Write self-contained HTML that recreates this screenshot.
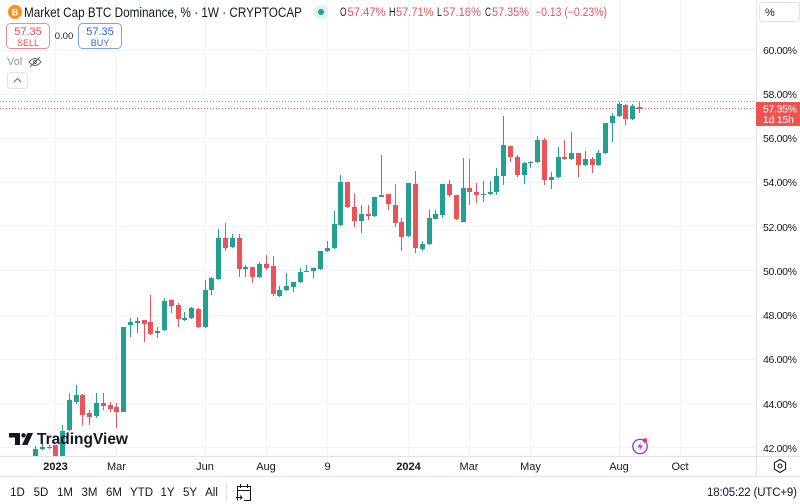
<!DOCTYPE html>
<html><head><meta charset="utf-8"><style>
html,body{margin:0;padding:0;background:#fff;}
svg{display:block;}
text{font-family:"Liberation Sans",Arial,sans-serif;}
</style></head><body>
<svg width="800" height="504" viewBox="0 0 800 504" xmlns="http://www.w3.org/2000/svg">
<rect width="800" height="504" fill="#fff"/>
<defs><clipPath id="pane"><rect x="0" y="0" width="756" height="456"/></clipPath></defs>
<!-- grid -->
<g stroke="#f0f3fa" stroke-width="1">
<line x1="55.5" y1="0" x2="55.5" y2="456"/><line x1="116.5" y1="0" x2="116.5" y2="456"/>
<line x1="205.5" y1="0" x2="205.5" y2="456"/><line x1="266.5" y1="0" x2="266.5" y2="456"/>
<line x1="327.5" y1="0" x2="327.5" y2="456"/><line x1="408.5" y1="0" x2="408.5" y2="456"/>
<line x1="469.5" y1="0" x2="469.5" y2="456"/><line x1="530.5" y1="0" x2="530.5" y2="456"/>
<line x1="619.5" y1="0" x2="619.5" y2="456"/><line x1="680.5" y1="0" x2="680.5" y2="456"/>
<line x1="0" y1="50.5" x2="756" y2="50.5"/><line x1="0" y1="94.5" x2="756" y2="94.5"/>
<line x1="0" y1="138.5" x2="756" y2="138.5"/><line x1="0" y1="182.5" x2="756" y2="182.5"/>
<line x1="0" y1="226.5" x2="756" y2="226.5"/><line x1="0" y1="270.5" x2="756" y2="270.5"/>
<line x1="0" y1="315.5" x2="756" y2="315.5"/><line x1="0" y1="359.5" x2="756" y2="359.5"/>
<line x1="0" y1="403.5" x2="756" y2="403.5"/><line x1="0" y1="447.5" x2="756" y2="447.5"/>
</g>
<!-- price lines -->
<line x1="0" y1="101.5" x2="756" y2="101.5" stroke="#9598a1" stroke-width="1" stroke-dasharray="1,2"/>
<line x1="0" y1="108.5" x2="756" y2="108.5" stroke="#ef5350" stroke-width="1" stroke-dasharray="1,2"/>
<g clip-path="url(#pane)">
<!-- green candles -->
<g fill="#22a190">
<rect x="35" y="446" width="1" height="10"/><rect x="33" y="449" width="5" height="7"/>
<rect x="42" y="444" width="1" height="6"/><rect x="40" y="447" width="5" height="2"/>
<rect x="49" y="445" width="1" height="4"/><rect x="47" y="447" width="5" height="1"/>
<rect x="62" y="425" width="1" height="31"/><rect x="60" y="431" width="5" height="25"/>
<rect x="69" y="394" width="1" height="37"/><rect x="67" y="400" width="5" height="30"/>
<rect x="76" y="385" width="1" height="19"/><rect x="74" y="395" width="5" height="7"/>
<rect x="96" y="393" width="1" height="25"/><rect x="94" y="403" width="5" height="13"/>
<rect x="123" y="327" width="1" height="85"/><rect x="121" y="327" width="5" height="85"/>
<rect x="130" y="318" width="1" height="19"/><rect x="128" y="322" width="5" height="3"/>
<rect x="137" y="317" width="1" height="16"/><rect x="135" y="321" width="5" height="2"/>
<rect x="157" y="327" width="1" height="11"/><rect x="155" y="331" width="5" height="2"/>
<rect x="164" y="298" width="1" height="33"/><rect x="162" y="301" width="5" height="29"/>
<rect x="184" y="312" width="1" height="9"/><rect x="182" y="318" width="5" height="2"/>
<rect x="191" y="307" width="1" height="12"/><rect x="189" y="308" width="5" height="10"/>
<rect x="205" y="280" width="1" height="48"/><rect x="203" y="290" width="5" height="37"/>
<rect x="211" y="277" width="1" height="18"/><rect x="209" y="278" width="5" height="12"/>
<rect x="218" y="229" width="1" height="51"/><rect x="216" y="238" width="5" height="41"/>
<rect x="232" y="234" width="1" height="14"/><rect x="230" y="238" width="5" height="9"/>
<rect x="245" y="265" width="1" height="12"/><rect x="243" y="267" width="5" height="2"/>
<rect x="259" y="262" width="1" height="16"/><rect x="257" y="264" width="5" height="13"/>
<rect x="279" y="286" width="1" height="11"/><rect x="277" y="290" width="5" height="6"/>
<rect x="286" y="273" width="1" height="18"/><rect x="284" y="286" width="5" height="4"/>
<rect x="293" y="282" width="1" height="10"/><rect x="291" y="282" width="5" height="5"/>
<rect x="300" y="268" width="1" height="15"/><rect x="298" y="272" width="5" height="10"/>
<rect x="306" y="265" width="1" height="7"/><rect x="304" y="271" width="5" height="1"/>
<rect x="313" y="268" width="1" height="10"/><rect x="311" y="268" width="5" height="3"/>
<rect x="320" y="251" width="1" height="19"/><rect x="318" y="251" width="5" height="18"/>
<rect x="327" y="241" width="1" height="11"/><rect x="325" y="248" width="5" height="3"/>
<rect x="334" y="211" width="1" height="38"/><rect x="332" y="224" width="5" height="24"/>
<rect x="340" y="175" width="1" height="51"/><rect x="338" y="182" width="5" height="43"/>
<rect x="361" y="205" width="1" height="28"/><rect x="359" y="214" width="5" height="7"/>
<rect x="374" y="197" width="1" height="20"/><rect x="372" y="197" width="5" height="19"/>
<rect x="381" y="155" width="1" height="42"/><rect x="379" y="195" width="5" height="2"/>
<rect x="408" y="183" width="1" height="54"/><rect x="406" y="183" width="5" height="53"/>
<rect x="422" y="241" width="1" height="10"/><rect x="420" y="244" width="5" height="5"/>
<rect x="429" y="210" width="1" height="35"/><rect x="427" y="218" width="5" height="26"/>
<rect x="435" y="210" width="1" height="9"/><rect x="433" y="214" width="5" height="5"/>
<rect x="442" y="184" width="1" height="34"/><rect x="440" y="184" width="5" height="31"/>
<rect x="463" y="158" width="1" height="64"/><rect x="461" y="188" width="5" height="34"/>
<rect x="483" y="181" width="1" height="21"/><rect x="481" y="194" width="5" height="1"/>
<rect x="490" y="181" width="1" height="14"/><rect x="488" y="192" width="5" height="2"/>
<rect x="496" y="168" width="1" height="27"/><rect x="494" y="176" width="5" height="16"/>
<rect x="503" y="116" width="1" height="69"/><rect x="501" y="145" width="5" height="31"/>
<rect x="524" y="162" width="1" height="22"/><rect x="522" y="163" width="5" height="12"/>
<rect x="530" y="161" width="1" height="7"/><rect x="528" y="162" width="5" height="1"/>
<rect x="537" y="136" width="1" height="27"/><rect x="535" y="140" width="5" height="22"/>
<rect x="551" y="172" width="1" height="17"/><rect x="549" y="177" width="5" height="3"/>
<rect x="558" y="147" width="1" height="31"/><rect x="556" y="157" width="5" height="20"/>
<rect x="571" y="132" width="1" height="28"/><rect x="569" y="153" width="5" height="6"/>
<rect x="585" y="151" width="1" height="15"/><rect x="583" y="159" width="5" height="6"/>
<rect x="598" y="150" width="1" height="16"/><rect x="596" y="153" width="5" height="12"/>
<rect x="605" y="123" width="1" height="31"/><rect x="603" y="123" width="5" height="30"/>
<rect x="612" y="113" width="1" height="29"/><rect x="610" y="116" width="5" height="7"/>
<rect x="619" y="102" width="1" height="15"/><rect x="617" y="104" width="5" height="12"/>
<rect x="632" y="104" width="1" height="16"/><rect x="630" y="106" width="5" height="13"/>
</g>
<!-- red candles -->
<g fill="#ec5358">
<rect x="55" y="445" width="1" height="11"/><rect x="53" y="445" width="5" height="11"/>
<rect x="82" y="394" width="1" height="31"/><rect x="80" y="395" width="5" height="20"/>
<rect x="89" y="410" width="1" height="15"/><rect x="87" y="413" width="5" height="4"/>
<rect x="103" y="393" width="1" height="17"/><rect x="101" y="403" width="5" height="3"/>
<rect x="110" y="402" width="1" height="10"/><rect x="108" y="405" width="5" height="4"/>
<rect x="116" y="403" width="1" height="25"/><rect x="114" y="407" width="5" height="5"/>
<rect x="144" y="320" width="1" height="22"/><rect x="142" y="320" width="5" height="4"/>
<rect x="150" y="295" width="1" height="40"/><rect x="148" y="322" width="5" height="12"/>
<rect x="171" y="299" width="1" height="14"/><rect x="169" y="300" width="5" height="6"/>
<rect x="178" y="303" width="1" height="24"/><rect x="176" y="305" width="5" height="14"/>
<rect x="198" y="308" width="1" height="20"/><rect x="196" y="309" width="5" height="18"/>
<rect x="225" y="223" width="1" height="28"/><rect x="223" y="238" width="5" height="10"/>
<rect x="239" y="234" width="1" height="43"/><rect x="237" y="238" width="5" height="31"/>
<rect x="252" y="267" width="1" height="16"/><rect x="250" y="267" width="5" height="10"/>
<rect x="266" y="255" width="1" height="15"/><rect x="264" y="264" width="5" height="4"/>
<rect x="273" y="256" width="1" height="40"/><rect x="271" y="266" width="5" height="28"/>
<rect x="347" y="182" width="1" height="26"/><rect x="345" y="182" width="5" height="25"/>
<rect x="354" y="194" width="1" height="33"/><rect x="352" y="207" width="5" height="14"/>
<rect x="368" y="205" width="1" height="15"/><rect x="366" y="214" width="5" height="2"/>
<rect x="388" y="194" width="1" height="16"/><rect x="386" y="194" width="5" height="10"/>
<rect x="395" y="184" width="1" height="43"/><rect x="393" y="205" width="5" height="18"/>
<rect x="401" y="218" width="1" height="33"/><rect x="399" y="222" width="5" height="15"/>
<rect x="415" y="171" width="1" height="82"/><rect x="413" y="184" width="5" height="64"/>
<rect x="449" y="180" width="1" height="17"/><rect x="447" y="184" width="5" height="11"/>
<rect x="456" y="195" width="1" height="25"/><rect x="454" y="195" width="5" height="24"/>
<rect x="469" y="159" width="1" height="46"/><rect x="467" y="188" width="5" height="4"/>
<rect x="476" y="183" width="1" height="20"/><rect x="474" y="192" width="5" height="3"/>
<rect x="510" y="146" width="1" height="16"/><rect x="508" y="146" width="5" height="11"/>
<rect x="517" y="155" width="1" height="22"/><rect x="515" y="157" width="5" height="18"/>
<rect x="544" y="138" width="1" height="47"/><rect x="542" y="140" width="5" height="40"/>
<rect x="564" y="140" width="1" height="20"/><rect x="562" y="157" width="5" height="2"/>
<rect x="578" y="153" width="1" height="24"/><rect x="576" y="153" width="5" height="12"/>
<rect x="592" y="157" width="1" height="16"/><rect x="590" y="159" width="5" height="6"/>
<rect x="625" y="104" width="1" height="21"/><rect x="623" y="105" width="5" height="14"/>
<rect x="639" y="102" width="1" height="11"/><rect x="637" y="107" width="5" height="2"/>
</g>
</g>
<!-- TradingView watermark -->
<g fill="#131722">
<path d="M9,433 H20 V445 H15 V437.5 H9 Z"/>
<circle cx="23.5" cy="435.3" r="2.2"/>
<path d="M27.5,433 H33 L27.5,445 H22 Z"/>
<text x="37" y="444" font-size="15.5" font-weight="bold" textLength="91" lengthAdjust="spacingAndGlyphs">TradingView</text>
</g>
<!-- lightning icon -->
<circle cx="640" cy="446.5" r="7.2" fill="#fff" stroke="#9c3fd0" stroke-width="1.4"/>
<path d="M641.5,441.5 L637.5,447.5 H640.5 L639,451.5 L643,445.5 H640 Z" fill="#9c3fd0"/>
<circle cx="645" cy="440.5" r="2.3" fill="#f23645"/>
<!-- header -->
<circle cx="15" cy="12" r="7" fill="#f7931a"/>
<text x="15" y="15.5" font-size="9" font-weight="bold" fill="#fff" text-anchor="middle">B</text>
<text x="24" y="17" font-size="13.5" fill="#131722" textLength="278" lengthAdjust="spacingAndGlyphs">Market Cap BTC Dominance, % · 1W · CRYPTOCAP</text>
<circle cx="321" cy="12" r="7" fill="#dff3ee"/>
<circle cx="321" cy="12" r="3" fill="#22a190"/>
<g font-size="11.5">
<text x="340" y="16" fill="#131722" textLength="6.5" lengthAdjust="spacingAndGlyphs">O</text>
<text x="347.5" y="16" fill="#ee4f5b" textLength="38" lengthAdjust="spacingAndGlyphs">57.47%</text>
<text x="389" y="16" fill="#131722" textLength="6.5" lengthAdjust="spacingAndGlyphs">H</text>
<text x="396" y="16" fill="#ee4f5b" textLength="37.5" lengthAdjust="spacingAndGlyphs">57.71%</text>
<text x="437" y="16" fill="#131722" textLength="5" lengthAdjust="spacingAndGlyphs">L</text>
<text x="443" y="16" fill="#ee4f5b" textLength="38" lengthAdjust="spacingAndGlyphs">57.16%</text>
<text x="485" y="16" fill="#131722" textLength="6" lengthAdjust="spacingAndGlyphs">C</text>
<text x="492" y="16" fill="#ee4f5b" textLength="37" lengthAdjust="spacingAndGlyphs">57.35%</text>
<text x="535" y="16" fill="#ee4f5b" textLength="72" lengthAdjust="spacingAndGlyphs">−0.13 (−0.23%)</text>
</g>
<!-- sell/buy -->
<rect x="6.5" y="23.5" width="43" height="25" rx="4" fill="#fff" stroke="#f08a92"/>
<text x="28" y="35" font-size="11" fill="#e5484d" text-anchor="middle">57.35</text>
<text x="28" y="46" font-size="9" fill="#e5484d" text-anchor="middle">SELL</text>
<text x="64" y="39" font-size="9.5" fill="#131722" text-anchor="middle">0.00</text>
<rect x="78.5" y="23.5" width="43" height="25" rx="4" fill="#fff" stroke="#7d9ef5"/>
<text x="100" y="35" font-size="11" fill="#2962ff" text-anchor="middle">57.35</text>
<text x="100" y="46" font-size="9" fill="#2962ff" text-anchor="middle">BUY</text>
<text x="7" y="65" font-size="11" fill="#9598a1">Vol</text>
<g stroke="#6a6d78" stroke-width="1" fill="none">
<path d="M29,62 Q35,55 41,62 Q35,69 29,62 Z"/>
<circle cx="35" cy="62" r="1.6"/>
<line x1="30" y1="67" x2="40" y2="57"/>
</g>
<rect x="7.5" y="72.5" width="20" height="16" rx="3" fill="#fff" stroke="#e0e3eb"/>
<path d="M14,82 L17.5,78.5 L21,82" fill="none" stroke="#6a6d78" stroke-width="1"/>
<!-- axes borders -->
<line x1="756.5" y1="0" x2="756.5" y2="476" stroke="#e0e3eb"/>
<line x1="0" y1="456.5" x2="800" y2="456.5" stroke="#e0e3eb"/>
<line x1="0" y1="476.5" x2="800" y2="476.5" stroke="#e0e3eb"/>
<!-- price axis -->
<rect x="759.5" y="2.5" width="40" height="19" rx="3" fill="#fff" stroke="#e0e3eb"/>
<text x="765" y="16" font-size="11" fill="#131722">%</text>
<g font-size="10.5" fill="#131722">
<text x="763" y="54" textLength="34">60.00%</text>
<text x="763" y="98" textLength="34">58.00%</text>
<text x="763" y="142" textLength="34">56.00%</text>
<text x="763" y="186" textLength="34">54.00%</text>
<text x="763" y="231" textLength="34">52.00%</text>
<text x="763" y="275" textLength="34">50.00%</text>
<text x="763" y="319" textLength="34">48.00%</text>
<text x="763" y="363" textLength="34">46.00%</text>
<text x="763" y="408" textLength="34">44.00%</text>
<text x="763" y="452" textLength="34">42.00%</text>
</g>
<rect x="756" y="102" width="44" height="24" fill="#ef5350"/>
<text x="763" y="112.5" font-size="10.5" fill="#fff" textLength="34">57.35%</text>
<text x="763" y="123" font-size="10.5" fill="#fff" textLength="31">1d 15h</text>
<!-- time axis -->
<g font-size="11" fill="#131722" text-anchor="middle">
<text x="55.5" y="470" font-weight="bold">2023</text>
<text x="116.5" y="470">Mar</text>
<text x="205" y="470">Jun</text>
<text x="266" y="470">Aug</text>
<text x="327.5" y="470">9</text>
<text x="408.5" y="470" font-weight="bold">2024</text>
<text x="469" y="470">Mar</text>
<text x="530.5" y="470">May</text>
<text x="619" y="470">Aug</text>
<text x="680" y="470">Oct</text>
</g>
<polygon points="780,459.5 785.6,462.8 785.6,469.2 780,472.5 774.4,469.2 774.4,462.8" fill="none" stroke="#131722" stroke-width="1.1"/>
<circle cx="780" cy="466" r="2" fill="none" stroke="#131722" stroke-width="1.1"/>
<!-- bottom toolbar -->
<g font-size="11.5" fill="#131722" text-anchor="middle">
<text x="17.5" y="496">1D</text>
<text x="41" y="496">5D</text>
<text x="65" y="496">1M</text>
<text x="89.5" y="496">3M</text>
<text x="114" y="496">6M</text>
<text x="141.5" y="496">YTD</text>
<text x="167.5" y="496">1Y</text>
<text x="190" y="496">5Y</text>
<text x="211.5" y="496">All</text>
</g>
<line x1="226.5" y1="483" x2="226.5" y2="501" stroke="#e0e3eb"/>
<g fill="none" stroke="#131722" stroke-width="1">
<path d="M237.5,500.5 V486.5 H250.5 V500.5 H244"/>
<line x1="237.5" y1="490.5" x2="250.5" y2="490.5"/>
<line x1="240.5" y1="484" x2="240.5" y2="488"/>
<line x1="247.5" y1="484" x2="247.5" y2="488"/>
<path d="M236,497.5 H242 M240,495.5 L242,497.5 L240,499.5"/>
</g>
<text x="797" y="496" font-size="11.5" fill="#131722" text-anchor="end" textLength="90">18:05:22 (UTC+9)</text>
</svg>
</body></html>
